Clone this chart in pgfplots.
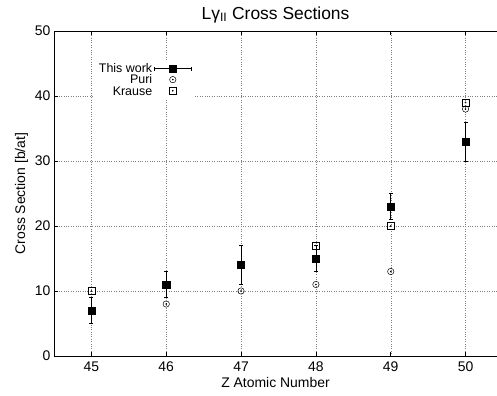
\documentclass[border=0pt]{standalone}
\usepackage{fontspec}
\setmainfont{Liberation Sans}
\usepackage{pgfplots}
\pgfplotsset{compat=1.18}
\begin{document}
\begin{tikzpicture}
\begin{axis}[
  name=ax,
  scale only axis,
  width=443bp, height=325bp,
  xmin=44.5, xmax=50.42, ymin=0, ymax=50,
  xtick={45,46,47,48,49,50},
  ytick={0,10,20,30,40,50},
  axis x line=box, axis y line=left,
  axis line style={-, line width=0.8pt},
  tick align=inside,
  major tick length=4bp,
  tick style={black, line width=0.6pt},
  grid=major,
  grid style={dotted, black!50, line width=0.45pt},
  /pgf/number format/assume math mode=true,
  tick label style={font=\fontsize{14}{16}\selectfont},
  xticklabel style={yshift=-2bp},
  label style={font=\fontsize{14}{16}\selectfont},
  title={\fontsize{17.5}{19}\selectfont Lγ\textsubscript{II} Cross Sections},
  title style={yshift=-1.5bp},
  xlabel={Z Atomic Number},
  ylabel={Cross Section [b/at]},
  xlabel style={yshift=1bp},
  ylabel style={yshift=0bp},
]
\addplot[only marks, mark=o, mark size=3.2bp, mark options={line width=0.5pt, black}]
  coordinates {(46,8) (47,10) (48,11) (49,13) (50,38)};
\addplot[only marks, mark=*, mark size=0.55bp, black]
  coordinates {(46,8) (47,10) (48,11) (49,13) (50,38)};
\addplot[only marks, mark=square, mark size=3.6bp, mark options={line width=0.5pt, black}]
  coordinates {(45,10) (48,17) (49,20) (50,39)};
\addplot[only marks, mark=*, mark size=0.55bp, black]
  coordinates {(45,10) (48,17) (49,20) (50,39)};
\addplot[only marks, black, mark=square*, mark size=3.6bp,
  error bars/.cd, y dir=both, y explicit,
  error bar style={line width=0.7pt, black},
  error mark options={rotate=90, mark size=2bp, line width=0.5pt}]
  coordinates {(45,7) +- (0,2) (46,11) +- (0,2) (47,14) +- (0,3) (48,15) +- (0,2) (49,23) +- (0,2) (50,33) +- (0,3)};
\end{axis}
\begin{axis}[
  scale only axis,
  width=443bp, height=325bp,
  xmin=44.5, xmax=50.42, ymin=0, ymax=50,
  hide axis,
  legend plot pos=right,
  legend cell align=right,
  legend style={at={(0.092,0.906)}, anchor=north west, draw=none, fill=white,
    font=\fontsize{12.5}{12.5}\selectfont, row sep=1.5bp, inner sep=2pt,
    nodes={text height=8.6bp, text depth=0bp, inner ysep=0.5bp}},
]
\addlegendimage{legend image code/.code={
  \draw[black, line width=0.6pt] (0bp,0bp) -- (37bp,0bp);
  \draw[black, line width=0.6pt] (0bp,-2bp) -- (0bp,2bp);
  \draw[black, line width=0.6pt] (37bp,-2bp) -- (37bp,2bp);
  \fill[black] (14.5bp,-3.8bp) rectangle (22.1bp,3.8bp);}}
\addlegendentry{This work}
\addlegendimage{legend image code/.code={
  \draw[black, line width=0.5pt] (18.3bp,0bp) circle (3.2bp);
  \fill[black] (18.3bp,0bp) circle (0.55bp);}}
\addlegendentry{Puri}
\addlegendimage{legend image code/.code={
  \draw[black, line width=0.5pt] (14.7bp,-3.6bp) rectangle (21.9bp,3.6bp);
  \fill[black] (18.3bp,0bp) circle (0.55bp);}}
\addlegendentry{Krause}
\end{axis}
\path (ax.south west) ++(-54bp,-40bp) coordinate (bl);
\path (ax.north east) ++(0bp,31bp) coordinate (tr);
\pgfresetboundingbox
\useasboundingbox (bl) rectangle (tr);
\end{tikzpicture}
\end{document}
